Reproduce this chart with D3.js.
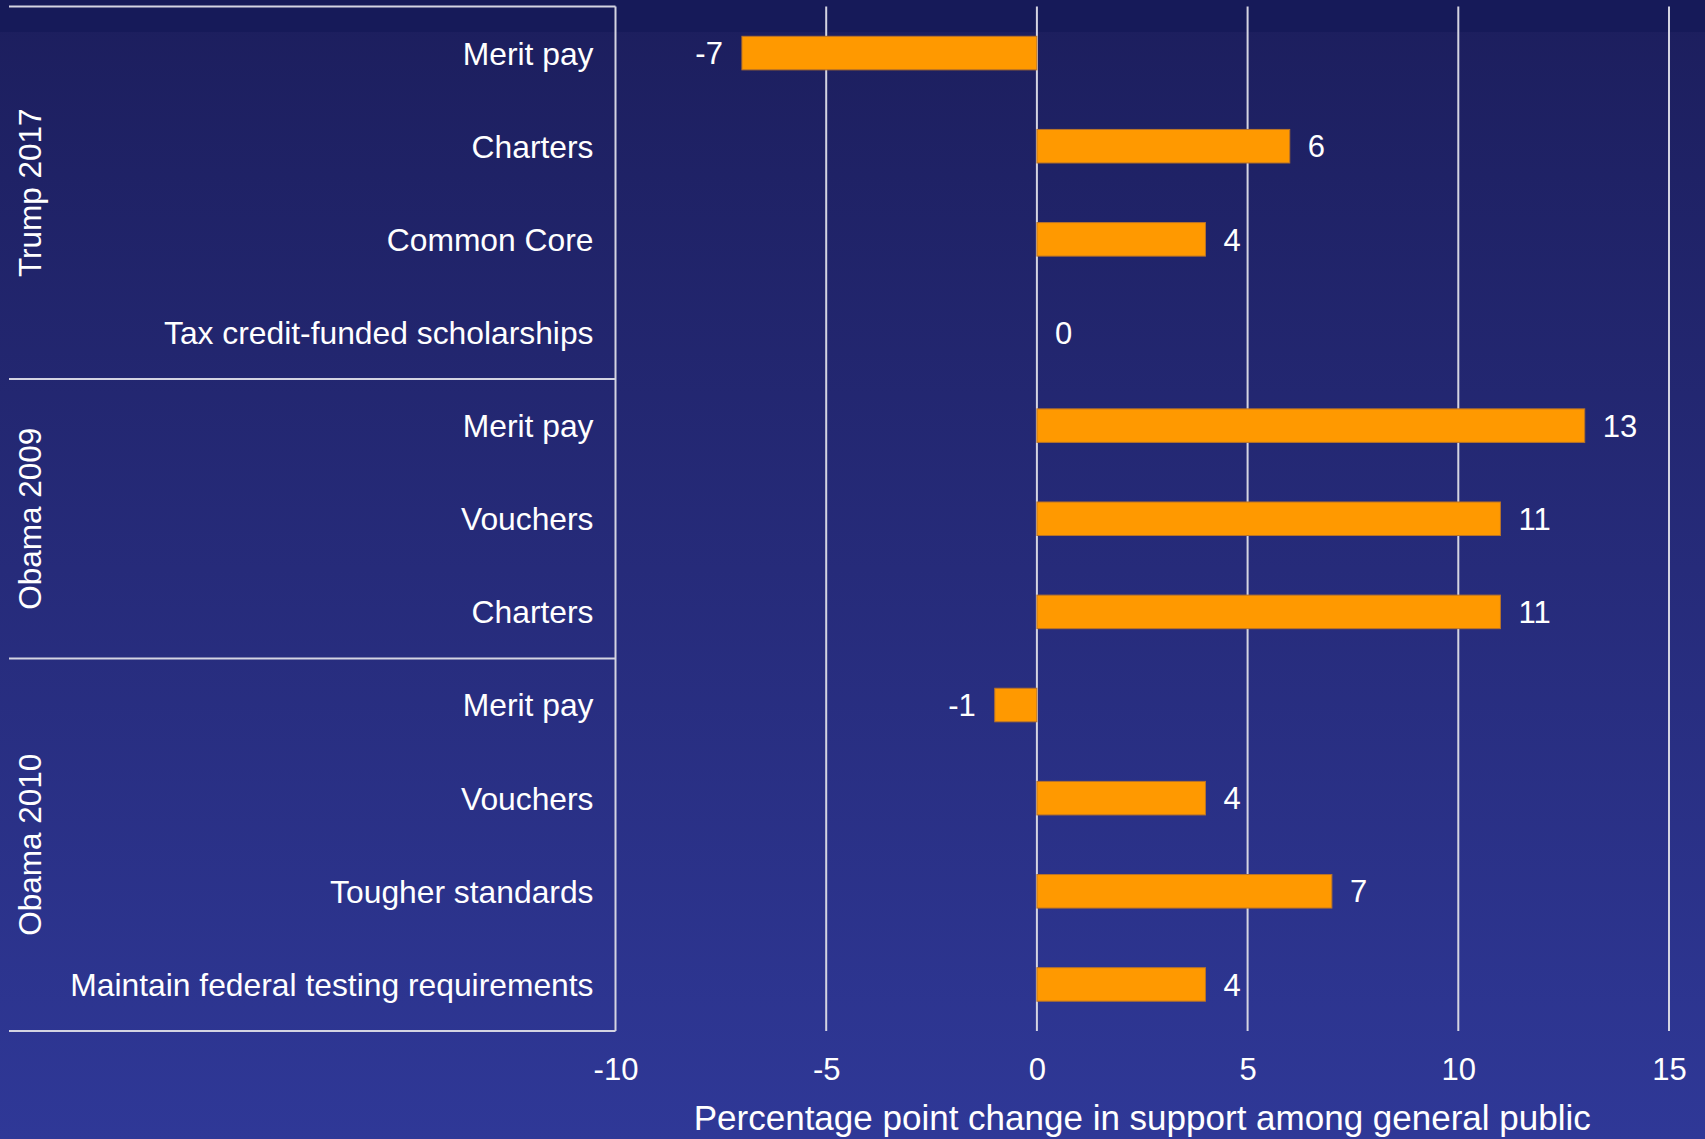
<!DOCTYPE html>
<html>
<head>
<meta charset="utf-8">
<script src="https://cdn.jsdelivr.net/npm/d3@7"></script>
<style>
  html, body { margin: 0; padding: 0; background: #1e2160; }
  svg { display: block; }
  text { font-family: "Liberation Sans", Arial, sans-serif; fill: #ffffff; }
</style>
</head>
<body>
<svg id="chart" width="1705" height="1139"></svg>
<script>
// ---- Data ----
const groups = ["Trump 2017", "Obama 2009", "Obama 2010"];
const groupSizes = [4, 3, 4];
const categories = [
  "Merit pay", "Charters", "Common Core", "Tax credit-funded scholarships",
  "Merit pay", "Vouchers", "Charters",
  "Merit pay", "Vouchers", "Tougher standards", "Maintain federal testing requirements"
];
const values = [-7, 6, 4, 0, 13, 11, 11, -1, 4, 7, 4];
const xTicks = [-10, -5, 0, 5, 10, 15];
const xTickLabels = ["-10", "-5", "0", "5", "10", "15"];
const xTitle = "Percentage point change in support among general public";

// ---- Layout ----
const W = 1705, H = 1139;
const plotLeft = 615.5, plotRight = 1669, plotTop = 6.5, plotBottom = 1031;
const panelLeft = 9;
const svg = d3.select("#chart");

// background gradient
const defs = svg.append("defs");
const grad = defs.append("linearGradient").attr("id", "bg").attr("x1", 0).attr("y1", 0).attr("x2", 0).attr("y2", 1);
grad.append("stop").attr("offset", "0%").attr("stop-color", "#1c1e5d");
grad.append("stop").attr("offset", "50%").attr("stop-color", "#262b7a");
grad.append("stop").attr("offset", "100%").attr("stop-color", "#2f3897");
svg.append("rect").attr("width", W).attr("height", H).attr("fill", "url(#bg)");
svg.append("rect").attr("width", W).attr("height", 32).attr("fill", "#161a59");

const x = d3.scaleLinear().domain([-10, 15]).range([plotLeft, plotRight]);
const idx = d3.range(categories.length);
const y = d3.scaleBand().domain(idx).range([plotTop, plotBottom]).paddingInner(0.64).paddingOuter(0.32);
const band = (plotBottom - plotTop) / categories.length;

const lineColor = "#d4d4e2";

// gridlines
svg.append("g").selectAll("line").data(xTicks.filter(t => t > -10)).join("line")
  .attr("x1", d => x(d)).attr("x2", d => x(d))
  .attr("y1", plotTop).attr("y2", plotBottom)
  .attr("stroke", lineColor).attr("stroke-width", 2);

// bars
svg.append("g").selectAll("rect").data(idx).join("rect")
  .attr("x", i => x(Math.min(0, values[i])))
  .attr("width", i => Math.abs(x(values[i]) - x(0)))
  .attr("y", i => y(i))
  .attr("height", y.bandwidth())
  .attr("fill", "#ff9900")
  .attr("stroke", i => values[i] === 0 ? "none" : "#b8732a")
  .attr("stroke-width", 1);

// value labels
svg.append("g").selectAll("text").data(idx).join("text")
  .attr("x", i => values[i] < 0 ? x(values[i]) - 19 : x(values[i]) + 18)
  .attr("y", i => y(i) + y.bandwidth() / 2)
  .attr("dy", "0.36em")
  .attr("text-anchor", i => values[i] < 0 ? "end" : "start")
  .attr("font-size", 31)
  .text(i => String(values[i]));

// x axis tick labels
const xAxis = d3.axisBottom(x).tickValues(xTicks)
  .tickFormat((d, k) => xTickLabels[k]).tickSize(0).tickPadding(0);
const ax = svg.append("g").attr("transform", `translate(0,${plotBottom})`).call(xAxis);
ax.select(".domain").remove();
ax.selectAll("text").attr("y", 38).attr("dy", "0.36em").attr("font-size", 31)
  .attr("font-family", "Liberation Sans, Arial, sans-serif").attr("fill", "#ffffff");

// axis title
svg.append("text").attr("x", (plotLeft + plotRight) / 2).attr("y", 1117).attr("dy", "0.36em")
  .attr("text-anchor", "middle").attr("font-size", 35).text(xTitle);

// category labels
svg.append("g").selectAll("text").data(idx).join("text")
  .attr("x", plotLeft - 22)
  .attr("y", i => y(i) + y.bandwidth() / 2)
  .attr("dy", "0.36em")
  .attr("text-anchor", "end")
  .attr("font-size", 31.8)
  .text(i => categories[i]);

// panel frame: vertical line + group separators
svg.append("line").attr("x1", plotLeft).attr("x2", plotLeft).attr("y1", plotTop).attr("y2", plotBottom)
  .attr("stroke", lineColor).attr("stroke-width", 2);
let cum = [0];
groupSizes.forEach(s => cum.push(cum[cum.length - 1] + s));
svg.append("g").selectAll("line").data(cum).join("line")
  .attr("x1", panelLeft).attr("x2", plotLeft)
  .attr("y1", c => plotTop + c * band).attr("y2", c => plotTop + c * band)
  .attr("stroke", lineColor).attr("stroke-width", 2);

// group labels
svg.append("g").selectAll("text").data(groups).join("text")
  .attr("transform", (g, k) => `translate(30,${plotTop + (cum[k] + cum[k + 1]) / 2 * band}) rotate(-90)`)
  .attr("dy", "0.36em")
  .attr("text-anchor", "middle")
  .attr("font-size", 31.5)
  .text(g => g);
</script>
</body>
</html>
